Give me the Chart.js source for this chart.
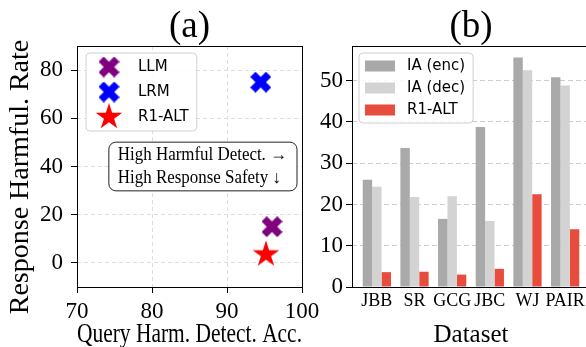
<!DOCTYPE html>
<html>
<head>
<meta charset="utf-8">
<script src="https://cdn.jsdelivr.net/npm/chart.js@4.4.1/dist/chart.umd.min.js"></script>
<style>
  html, body { margin: 0; padding: 0; background: #fff; overflow: hidden; }
  #wrap { position: relative; width: 586px; height: 347px; overflow: hidden; }
  canvas { position: absolute; top: 0; }
  #chartA { left: 0; }
  #chartB { left: 300px; }
</style>
</head>
<body>
<div id="wrap">
  <canvas id="chartA" width="330" height="347"></canvas>
  <canvas id="chartB" width="290" height="347"></canvas>
</div>
<script>
// (a) scatter
const modelosA = ['LLM', 'LRM', 'R1-ALT'];
const deteccaoA = [96.0, 94.5, 95.2];   // Query Harm. Detect. Acc.
const nocividadeA = [15.0, 75.0, 3.5];  // Response Harmful. Rate
const coresA = ['#800080', '#0000ff', '#ff0000'];
const marcadoresA = ['X', 'X', 'star'];
const ticksXA = [70, 80, 90, 100];
const ticksYA = [0, 20, 40, 60, 80];
const notaA = ['High Harmful Detect. \u2192', 'High Response Safety \u2193'];

// (b) barras
const datasetsB = ['JBB', 'SR', 'GCG', 'JBC', 'WJ', 'PAIR'];
const iaEnc = [26.0, 33.7, 16.5, 38.8, 55.6, 50.8];
const iaDec = [24.3, 21.8, 22.0, 16.0, 52.5, 48.8];
const r1Alt = [3.6, 3.7, 3.0, 4.4, 22.5, 14.0];
const seriesB = ['IA (enc)', 'IA (dec)', 'R1-ALT'];
const coresB = ['#a9a9a9', '#d3d3d3', '#e74c3c'];
const ticksYB = [0, 10, 20, 30, 40, 50];

const serif = "'Liberation Serif', 'Times New Roman', serif";
const sans = "'DejaVu Sans', sans-serif";

// marcador X preenchido (como o 'X' do matplotlib)
function marcadorX(cor, tam) {
  const c = document.createElement('canvas');
  c.width = c.height = tam;
  const g = c.getContext('2d');
  const u = tam / 4;
  const p = [[-1,-2],[0,-1],[1,-2],[2,-1],[1,0],[2,1],[1,2],[0,1],[-1,2],[-2,1],[-1,0],[-2,-1]];
  g.translate(tam / 2, tam / 2);
  g.beginPath();
  p.forEach(([x, y], i) => i ? g.lineTo(x * u, y * u) : g.moveTo(x * u, y * u));
  g.closePath();
  g.fillStyle = cor;
  g.fill();
  return c;
}

// estrela de 5 pontas preenchida
function marcadorEstrela(cor, raio) {
  const c = document.createElement('canvas');
  const tam = Math.ceil(raio * 2 + 2);
  c.width = c.height = tam;
  const g = c.getContext('2d');
  g.translate(tam / 2, tam / 2);
  g.beginPath();
  for (let i = 0; i < 10; i++) {
    const r = i % 2 ? raio * 0.381966 : raio;
    const a = -Math.PI / 2 + i * Math.PI / 5;
    const x = r * Math.cos(a), y = r * Math.sin(a);
    i ? g.lineTo(x, y) : g.moveTo(x, y);
  }
  g.closePath();
  g.fillStyle = cor;
  g.fill();
  return c;
}

function caixaArredondada(ctx, x, y, w, h, r) {
  ctx.beginPath();
  ctx.moveTo(x + r, y);
  ctx.arcTo(x + w, y, x + w, y + h, r);
  ctx.arcTo(x + w, y + h, x, y + h, r);
  ctx.arcTo(x, y + h, x, y, r);
  ctx.arcTo(x, y, x + w, y, r);
  ctx.closePath();
}

// moldura dos 4 lados
const moldura = {
  id: 'moldura',
  afterDatasetsDraw(chart) {
    const {ctx, chartArea: a} = chart;
    ctx.save();
    ctx.strokeStyle = '#000';
    ctx.lineWidth = 1;
    ctx.strokeRect(Math.round(a.left) + 0.5, Math.round(a.top) + 0.5,
      Math.round(a.right - a.left), Math.round(a.bottom - a.top));
    ctx.restore();
  }
};

// legenda dentro do grafico
const legendaCaixa = {
  id: 'legendaCaixa',
  afterDatasetsDraw(chart, args, o) {
    const {ctx, chartArea} = chart;
    const ds = chart.data.datasets;
    ctx.save();
    ctx.font = o.fontSize + 'px ' + sans;
    const larg = Math.max(...ds.map(d => ctx.measureText(d.label).width));
    const x0 = chartArea.left + o.dx, y0 = chartArea.top + o.dy;
    const w = o.textX + larg + o.padRight;
    const h = o.first * 2 + o.row * (ds.length - 1);
    caixaArredondada(ctx, x0, y0, w, h, 4);
    ctx.fillStyle = 'rgba(255,255,255,0.85)';
    ctx.fill();
    ctx.strokeStyle = '#d0d0d0';
    ctx.lineWidth = 1;
    ctx.stroke();
    ds.forEach((d, i) => {
      const cy = y0 + o.first + i * o.row;
      if (d.pointStyle instanceof HTMLCanvasElement) {
        const img = d.pointStyle;
        ctx.drawImage(img, x0 + o.markX - img.width / 2, cy - img.height / 2);
      } else {
        ctx.fillStyle = d.backgroundColor;
        ctx.fillRect(x0 + o.patchX, cy - o.patchH / 2, o.patchW, o.patchH);
      }
      ctx.fillStyle = '#000';
      ctx.textBaseline = 'middle';
      ctx.textAlign = 'left';
      ctx.fillText(d.label, x0 + o.textX, cy);
    });
    ctx.restore();
  }
};

// caixa de texto com as setas (fonte um pouco mais estreita, como no original)
const notaCaixa = {
  id: 'notaCaixa',
  afterDatasetsDraw(chart, args, o) {
    const {ctx, chartArea: a} = chart;
    ctx.save();
    ctx.font = o.fontSize + 'px ' + serif;
    const largs = o.linhas.map(t => ctx.measureText(t).width * o.aperto);
    const w = Math.max(...largs) + o.padL + o.padR;
    const h = o.padT * 2 + o.gap * (o.linhas.length - 1);
    const x0 = a.right - o.dxRight - w;
    const y0 = (a.top + a.bottom) / 2 - h / 2;
    caixaArredondada(ctx, x0, y0, w, h, 7);
    ctx.fillStyle = '#fff';
    ctx.fill();
    ctx.strokeStyle = '#222';
    ctx.lineWidth = 1;
    ctx.stroke();
    ctx.fillStyle = '#000';
    ctx.textBaseline = 'middle';
    o.linhas.forEach((t, i) => ctx.fillText(t, x0 + o.padL, y0 + o.padT + i * o.gap, largs[i]));
    ctx.restore();
  }
};

function eixoTitulo(texto, tam, pad) {
  return { display: true, text: texto, color: '#000',
    font: { family: serif, size: tam, lineHeight: 1 }, padding: pad };
}

// grafico (a)
new Chart(document.getElementById('chartA'), {
  type: 'scatter',
  data: {
    datasets: modelosA.map((m, i) => ({
      label: m,
      data: [{ x: deteccaoA[i], y: nocividadeA[i] }],
      pointStyle: marcadoresA[i] === 'X' ? marcadorX(coresA[i], 21) : marcadorEstrela(coresA[i], 14),
      backgroundColor: coresA[i],
      borderColor: coresA[i]
    }))
  },
  options: {
    responsive: false,
    animation: false,
    events: [],
    layout: { padding: { top: 0, right: 28, bottom: 0, left: 0 } },
    scales: {
      x: {
        type: 'linear', min: 70, max: 100,
        afterBuildTicks: s => { s.ticks = ticksXA.map(v => ({ value: v })); },
        afterFit: s => { s.height = 60; },
        grid: { color: '#dddddd', tickColor: '#000', tickLength: 6 },
        border: { display: false, dash: [4, 3] },
        ticks: { font: { family: serif, size: 23 }, color: '#000', padding: 5, maxRotation: 0 },
        title: eixoTitulo('Query Harm. Detect. Acc.', 27, { top: 0, bottom: -1 })
      },
      y: {
        type: 'linear', min: -10, max: 90,
        afterBuildTicks: s => { s.ticks = ticksYA.map(v => ({ value: v })); },
        afterFit: s => { s.width = 77; },
        grid: { color: '#dddddd', tickColor: '#000', tickLength: 6 },
        border: { display: false, dash: [4, 3] },
        ticks: { font: { family: serif, size: 23 }, color: '#000', padding: 8 },
        // espacos no fim: o texto fica um pouco mais abaixo, como no original
        title: eixoTitulo('Response Harmful. Rate   ', 28, { top: 7, bottom: 0 })
      }
    },
    plugins: {
      legend: { display: false },
      tooltip: { enabled: false },
      title: {
        display: true, text: '(a)', fullSize: false, color: '#000',
        font: { family: serif, size: 37, weight: 'normal', lineHeight: 1 },
        padding: { top: 9, bottom: 0 }
      },
      legendaCaixa: { fontSize: 15, dx: 9, dy: 7, first: 14, row: 25, markX: 23, textX: 52, padRight: 8 },
      notaCaixa: { linhas: notaA, fontSize: 18, aperto: 0.94, dxRight: 5, padL: 9, padR: 10, padT: 13, gap: 22.7 }
    }
  },
  plugins: [moldura, legendaCaixa, notaCaixa]
});

// grafico (b)
const valoresB = [iaEnc, iaDec, r1Alt];
new Chart(document.getElementById('chartB'), {
  type: 'bar',
  data: {
    datasets: seriesB.map((nome, k) => ({
      label: nome,
      data: valoresB[k].map((v, i) => ({ x: i, y: v })),
      backgroundColor: coresB[k],
      borderWidth: 0,
      categoryPercentage: 0.75,
      barPercentage: 1.0
    }))
  },
  options: {
    responsive: false,
    animation: false,
    events: [],
    layout: { padding: 0 },
    scales: {
      x: {
        type: 'linear', min: -0.66, max: 5.66, offset: false,
        afterBuildTicks: s => { s.ticks = datasetsB.map((_, i) => ({ value: i })); },
        afterFit: s => { s.height = 60; },
        grid: { display: false, drawTicks: false },
        border: { display: false },
        ticks: { callback: (v, i) => datasetsB[i], font: { family: serif, size: 18 }, color: '#000', padding: 3, maxRotation: 0, autoSkip: false },
        title: eixoTitulo('Dataset', 25, { top: 0, bottom: -1 })
      },
      y: {
        min: 0, max: 58.4,
        afterBuildTicks: s => { s.ticks = ticksYB.map(v => ({ value: v })); },
        afterFit: s => { s.width = 52; },
        grid: { color: '#cccccc', tickColor: '#000', tickLength: 6 },
        border: { display: false, dash: [5, 3] },
        ticks: { font: { family: serif, size: 23 }, color: '#000', padding: 3 }
      }
    },
    plugins: {
      legend: { display: false },
      tooltip: { enabled: false },
      title: {
        display: true, text: '(b)', fullSize: false, color: '#000',
        font: { family: serif, size: 37, weight: 'normal', lineHeight: 1 },
        padding: { top: 9, bottom: 0 }
      },
      legendaCaixa: { fontSize: 15, dx: 7, dy: 7, first: 13, row: 22, patchX: 6, patchW: 30, patchH: 11, textX: 48, padRight: 8 }
    }
  },
  plugins: [moldura, legendaCaixa]
});
</script>
</body>
</html>
